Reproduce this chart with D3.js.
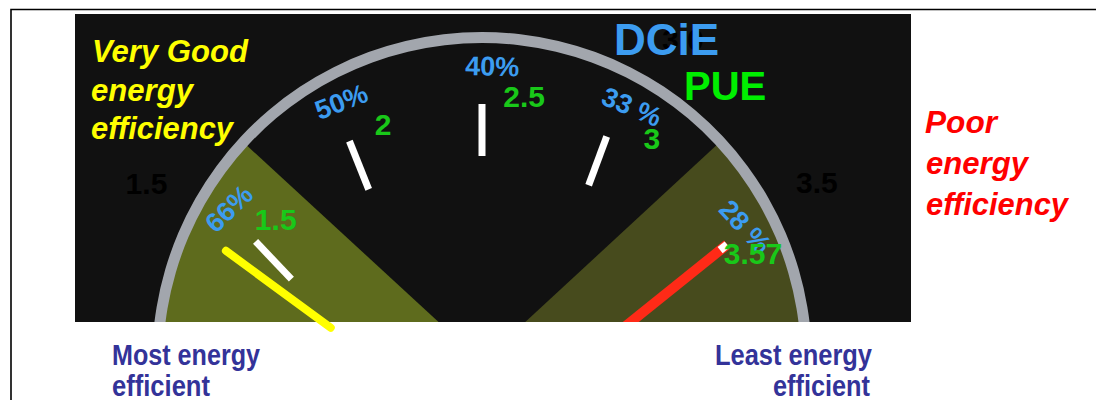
<!DOCTYPE html>
<html><head><meta charset="utf-8">
<script src="https://cdn.jsdelivr.net/npm/d3@7"></script>
<style>html,body{margin:0;padding:0;background:#fff;} svg{display:block;}</style>
</head><body>
<script>
// ---- data ----
const pueTicks = [1.5, 2, 2.5, 3];
const pueLabels = ["1.5", "2", "2.5", "3"];
const dcieLabels = ["66%", "50%", "40%", "33 %"];
const markerValue = 3.57;
const markerPue = "3.57";
const markerDcie = "28 %";
const bestValue = 1.45;
const ghostValues = [1.5, 3.0, 3.5];
const ghostLabels = ["1.5", "3.0", "3.5"];
const goodZone = [1.0, 1.76];
const poorZone = [3.29, 4.3];
const gaugeDomain = [1.5, 2.5, 3.57];
const titleDcie = "DCiE";
const titlePue = "PUE";
const goodText = ["Very Good", "energy", "efficiency"];
const poorText = ["Poor", "energy", "efficiency"];
const mostText = ["Most energy", "efficient"];
const leastText = ["Least energy", "efficient"];

// ---- layout ----
const W = 1096, H = 400;
const C = [482, 362];        // dial centre
const P = [484, 440];        // needle pivot (perspective)
const L = [505, 370];        // PUE label centre
const font = "'Liberation Sans', Arial, Helvetica, sans-serif";
const rad = d => d * Math.PI / 180;
const polar = (c, r, deg) => [c[0] + r * Math.sin(rad(deg)), c[1] - r * Math.cos(rad(deg))];

const angle = d3.scaleLinear().domain(gaugeDomain).range([-64, 0, 64]);

const svg = d3.select("body").append("svg").attr("width", W).attr("height", H);

// frame
svg.append("path").attr("d", `M11,${H} V9.5 H${W}`).attr("fill", "none")
  .attr("stroke", "#000").attr("stroke-width", 1.6);

// panel
const panel = {x: 75, y: 14, w: 836, h: 308};
svg.append("defs").append("clipPath").attr("id", "pc")
  .append("rect").attr("x", panel.x).attr("y", panel.y).attr("width", panel.w).attr("height", panel.h);
svg.append("rect").attr("x", panel.x).attr("y", panel.y).attr("width", panel.w).attr("height", panel.h)
  .attr("fill", "#111111");

const g = svg.append("g").attr("clip-path", "url(#pc)");

// zones
const zoneArc = d3.arc().innerRadius(0).outerRadius(320);
[[goodZone, "#5e6b1d"], [poorZone, "#474b1d"]].forEach(([z, col]) => {
  g.append("path").attr("transform", `translate(${C})`)
    .attr("d", zoneArc({startAngle: rad(angle(z[0])), endAngle: rad(angle(z[1]))}))
    .attr("fill", col);
});

// ring
g.append("path").attr("transform", `translate(${C})`)
  .attr("d", d3.arc().innerRadius(319).outerRadius(330)({startAngle: -Math.PI / 2 - 0.3, endAngle: Math.PI / 2 + 0.3}))
  .attr("fill", "#a2a6ad");

// ghost scale labels (black on black)
g.selectAll("text.ghost").data(ghostValues).join("text").attr("class", "ghost")
  .attr("x", d => polar(C, 380, angle(d) + 2)[0])
  .attr("y", d => polar(C, 380, angle(d) + 2)[1])
  .attr("dy", "0.35em").attr("text-anchor", "middle")
  .attr("font-family", font).attr("font-weight", "bold").attr("font-size", 30)
  .attr("fill", "#000").text((d, i) => ghostLabels[i]);

// ticks
svg.selectAll("line.tick").data(pueTicks).join("line").attr("class", "tick")
  .each(function (d) {
    const a = angle(d), o = 0.68 * a;
    const m = polar(C, 232, a);
    const dx = 26 * Math.sin(rad(o)), dy = -26 * Math.cos(rad(o));
    d3.select(this).attr("x1", m[0] - dx).attr("y1", m[1] - dy).attr("x2", m[0] + dx).attr("y2", m[1] + dy);
  })
  .attr("stroke", "#fff").attr("stroke-width", 7);

// needles
function needle(v, r0, r1) {
  const n = 0.8 * angle(v);
  const a = polar(P, r0, n), b = polar(P, r1, n);
  return {x1: a[0], y1: a[1], x2: b[0], y2: b[1]};
}
const gn = svg.append("g").attr("clip-path", "url(#pc)");
const red = needle(markerValue, 180, 312);
gn.append("line").attr("x1", red.x1).attr("y1", red.y1).attr("x2", red.x2).attr("y2", red.y2)
  .attr("stroke", "#ff2a17").attr("stroke-width", 10);
const redTip = needle(markerValue, 303, 312);
gn.append("line").attr("x1", redTip.x1).attr("y1", redTip.y1).attr("x2", redTip.x2).attr("y2", redTip.y2)
  .attr("stroke", "#ffffff").attr("stroke-width", 8);
const yel = needle(bestValue, 190, 320);
svg.append("line").attr("x1", yel.x1).attr("y1", yel.y1).attr("x2", yel.x2).attr("y2", yel.y2)
  .attr("stroke", "#ffff00").attr("stroke-width", 8).attr("stroke-linecap", "round");

// DCiE labels (blue, along the arc)
const blueCol = "#3c9cf0";
const dcieData = pueTicks.map((v, i) => ({v, t: dcieLabels[i]})).concat([{v: markerValue, t: markerDcie}]);
svg.selectAll("text.dcie").data(dcieData).join("text").attr("class", "dcie")
  .attr("transform", d => {
    const c = 0.95 * angle(d.v) + 2;
    const p = polar(C, 296, c);
    return `translate(${p}) rotate(${0.75 * c})`;
  })
  .attr("dy", "0.35em").attr("text-anchor", "middle")
  .attr("font-family", font).attr("font-weight", "bold").attr("font-size", 27)
  .attr("fill", blueCol).text(d => d.t);

// PUE labels (green)
const pueData = pueTicks.map((v, i) => ({v, t: pueLabels[i]})).concat([{v: markerValue, t: markerPue}]);
svg.selectAll("text.pue").data(pueData).join("text").attr("class", "pue")
  .attr("x", d => polar(L, 274, 0.95 * angle(d.v) + 4)[0])
  .attr("y", d => polar(L, 274, 0.95 * angle(d.v) + 4)[1])
  .attr("dy", "0.35em").attr("text-anchor", "middle")
  .attr("font-family", font).attr("font-weight", "bold").attr("font-size", 30)
  .attr("fill", "#19c819").text(d => d.t);

// titles
svg.append("text").attr("x", 614).attr("y", 55).attr("font-family", font).attr("font-weight", "bold")
  .attr("font-size", 44).attr("fill", blueCol).text(titleDcie);
svg.append("text").attr("x", 684).attr("y", 100).attr("font-family", font).attr("font-weight", "bold")
  .attr("font-size", 40).attr("fill", "#00ee00").text(titlePue);

// side texts
function block(lines, x, ys, lens, opts) {
  lines.forEach((t, i) => {
    svg.append("text").attr("x", x[i]).attr("y", ys[i])
      .attr("text-anchor", opts.anchor || "start")
      .attr("font-family", font).attr("font-weight", "bold")
      .attr("font-style", opts.italic ? "italic" : "normal")
      .attr("font-size", opts.size).attr("fill", opts.fill)
      .attr("textLength", lens[i]).attr("lengthAdjust", "spacingAndGlyphs")
      .text(t);
  });
}
block(goodText, [92, 91, 91], [62, 101, 139], [156, 102, 142], {size: 32, italic: true, fill: "#ffff00"});
block(poorText, [925, 926, 926], [133, 174, 215], [72, 102, 142], {size: 32, italic: true, fill: "#ff0000"});
block(mostText, [112, 112], [365, 396], [148, 98], {size: 29, fill: "#333399"});
block(leastText, [872, 870], [365, 396], [157, 97], {size: 29, fill: "#333399", anchor: "end"});
</script>
</body></html>
